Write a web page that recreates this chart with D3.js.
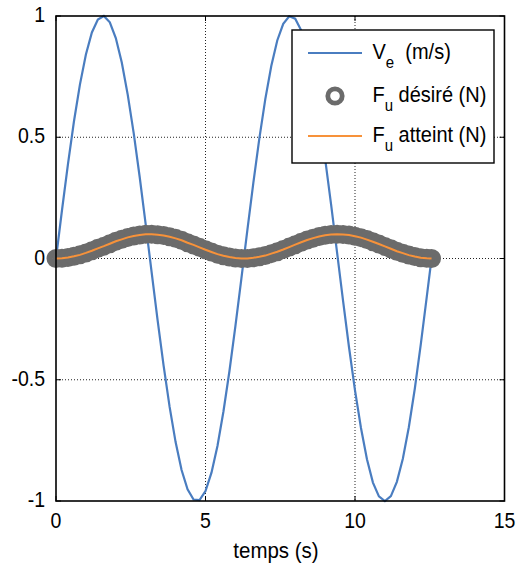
<!DOCTYPE html>
<html><head><meta charset="utf-8">
<script src="https://cdn.jsdelivr.net/npm/d3@7"></script>
<style>body{margin:0;background:#fff}svg{display:block;font-family:Arial,"Liberation Sans",sans-serif}</style>
</head><body><svg id="c" width="516" height="565"></svg>
<script>
const tVals = [0,0.2,0.4,0.6,0.8,1.0,1.2,1.4,1.6,1.8,2.0,2.2,2.4,2.6,2.8,3.0,3.2,3.4,3.6,3.8,4.0,4.2,4.4,4.6,4.8,5.0,5.2,5.4,5.6,5.8,6.0,6.2,6.4,6.6,6.8,7.0,7.2,7.4,7.6,7.8,8.0,8.2,8.4,8.6,8.8,9.0,9.2,9.4,9.6,9.8,10.0,10.2,10.4,10.6,10.8,11.0,11.2,11.4,11.6,11.8,12.0,12.2,12.4,12.56];
const veVals = [0,0.199,0.389,0.565,0.717,0.841,0.932,0.985,1.000,0.974,0.909,0.808,0.675,0.516,0.335,0.141,-0.058,-0.256,-0.443,-0.612,-0.757,-0.872,-0.952,-0.994,-0.996,-0.959,-0.883,-0.773,-0.631,-0.465,-0.279,-0.083,0.117,0.312,0.494,0.657,0.794,0.899,0.968,0.999,0.989,0.941,0.855,0.734,0.585,0.412,0.223,0.025,-0.174,-0.366,-0.544,-0.699,-0.828,-0.924,-0.981,-1.000,-0.980,-0.921,-0.826,-0.696,-0.537,-0.354,-0.158,0.000];
const fuDesire = [0,0.001,0.004,0.009,0.015,0.023,0.032,0.042,0.051,0.061,0.071,0.079,0.087,0.093,0.097,0.0995,0.0999,0.098,0.095,0.090,0.083,0.075,0.065,0.056,0.046,0.036,0.027,0.018,0.011,0.006,0.002,0.000,0.000,0.003,0.007,0.012,0.020,0.028,0.037,0.047,0.057,0.067,0.076,0.084,0.091,0.096,0.099,0.100,0.099,0.097,0.092,0.086,0.078,0.069,0.060,0.050,0.040,0.030,0.022,0.014,0.008,0.003,0.001,0.000];
const fuAtteint = [0,0.001,0.004,0.009,0.015,0.023,0.032,0.042,0.051,0.061,0.071,0.079,0.087,0.093,0.097,0.0995,0.0999,0.098,0.095,0.090,0.083,0.075,0.065,0.056,0.046,0.036,0.027,0.018,0.011,0.006,0.002,0.000,0.000,0.003,0.007,0.012,0.020,0.028,0.037,0.047,0.057,0.067,0.076,0.084,0.091,0.096,0.099,0.100,0.099,0.097,0.092,0.086,0.078,0.069,0.060,0.050,0.040,0.030,0.022,0.014,0.008,0.003,0.001,0.000];
const xTicks = [0,5,10,15];
const yTicks = [-1,-0.5,0,0.5,1];
const yTickLabels = ["-1","-0.5","0","0.5","1"];

const svg = d3.select("#c");
const L=56, R=504.5, T=16, B=501;
const x = d3.scaleLinear().domain([0,15]).range([L,R]);
const y = d3.scaleLinear().domain([-1,1]).range([B,T]);
const FS=19.5, SY=1.09;

function label(px,py,anchor,txt,fs){
  const gg=svg.append("g").attr("transform",`translate(${px},${py}) scale(1,${SY})`);
  gg.append("text").attr("text-anchor",anchor).attr("font-size",fs||FS).text(txt);
}

const g = svg.append("g");
g.selectAll(".gx").data(xTicks.slice(1,-1)).enter().append("line")
 .attr("x1",d=>x(d)).attr("x2",d=>x(d)).attr("y1",T).attr("y2",B)
 .attr("stroke","#222").attr("stroke-width",1).attr("stroke-dasharray","1,2");
g.selectAll(".gy").data(yTicks.slice(1,-1)).enter().append("line")
 .attr("y1",d=>y(d)).attr("y2",d=>y(d)).attr("x1",L).attr("x2",R)
 .attr("stroke","#222").attr("stroke-width",1).attr("stroke-dasharray","1,2");

const tl=5;
xTicks.forEach(v=>{
  g.append("line").attr("x1",x(v)).attr("x2",x(v)).attr("y1",B).attr("y2",B-tl).attr("stroke","#000");
  g.append("line").attr("x1",x(v)).attr("x2",x(v)).attr("y1",T).attr("y2",T+tl).attr("stroke","#000");
});
yTicks.forEach(v=>{
  g.append("line").attr("y1",y(v)).attr("y2",y(v)).attr("x1",L).attr("x2",L+tl).attr("stroke","#000");
  g.append("line").attr("y1",y(v)).attr("y2",y(v)).attr("x1",R).attr("x2",R-tl).attr("stroke","#000");
});

const idx = d3.range(tVals.length);
svg.append("path").datum(idx)
 .attr("d", d3.line().x(i=>x(tVals[i])).y(i=>y(veVals[i])))
 .attr("fill","none").attr("stroke","#4a7dc0").attr("stroke-width",2.2);

svg.append("g").selectAll("circle").data(idx).enter().append("circle")
 .attr("cx",i=>x(tVals[i])).attr("cy",i=>y(fuDesire[i])).attr("r",6.3)
 .attr("fill","none").attr("stroke","#6b6b6b").attr("stroke-width",6.4);

svg.append("path").datum(idx)
 .attr("d", d3.line().x(i=>x(tVals[i])).y(i=>y(fuAtteint[i])))
 .attr("fill","none").attr("stroke","#f7923a").attr("stroke-width",2);

svg.append("rect").attr("x",L).attr("y",T).attr("width",R-L).attr("height",B-T)
 .attr("fill","none").attr("stroke","#000").attr("stroke-width",1.6);

xTicks.forEach(v=>label(x(v),528,"middle",String(v)));
yTicks.forEach((v,i)=>label(45,y(v)+6,"end",yTickLabels[i]));
label(276,558,"middle","temps (s)",20.5);

const lg = svg.append("g");
lg.append("rect").attr("x",292).attr("y",30).attr("width",202).attr("height",133)
 .attr("fill","#fff").attr("stroke","#000").attr("stroke-width",1.4);
const rows=[53,96,136];
lg.append("line").attr("x1",308).attr("x2",362).attr("y1",rows[0]).attr("y2",rows[0]).attr("stroke","#4a7dc0").attr("stroke-width",2.2);
lg.append("circle").attr("cx",335).attr("cy",rows[1]).attr("r",7.2).attr("fill","#fff").attr("stroke","#6b6b6b").attr("stroke-width",4.8);
lg.append("line").attr("x1",308).attr("x2",362).attr("y1",rows[2]).attr("y2",rows[2]).attr("stroke","#f7923a").attr("stroke-width",2.2);
const legTexts=[["V","e","  (m/s)"],["F","u"," désiré (N)"],["F","u"," atteint (N)"]];
legTexts.forEach((t,i)=>{
  const gg=svg.append("g").attr("transform",`translate(372.5,${rows[i]+5.5}) scale(1,${SY})`);
  const tx = gg.append("text").attr("font-size",20).attr("xml:space","preserve");
  tx.append("tspan").text(t[0]);
  tx.append("tspan").attr("dy",8.5).attr("font-size",15).text(t[1]);
  tx.append("tspan").attr("dy",-8.5).text(t[2]);
});
</script></body></html>
